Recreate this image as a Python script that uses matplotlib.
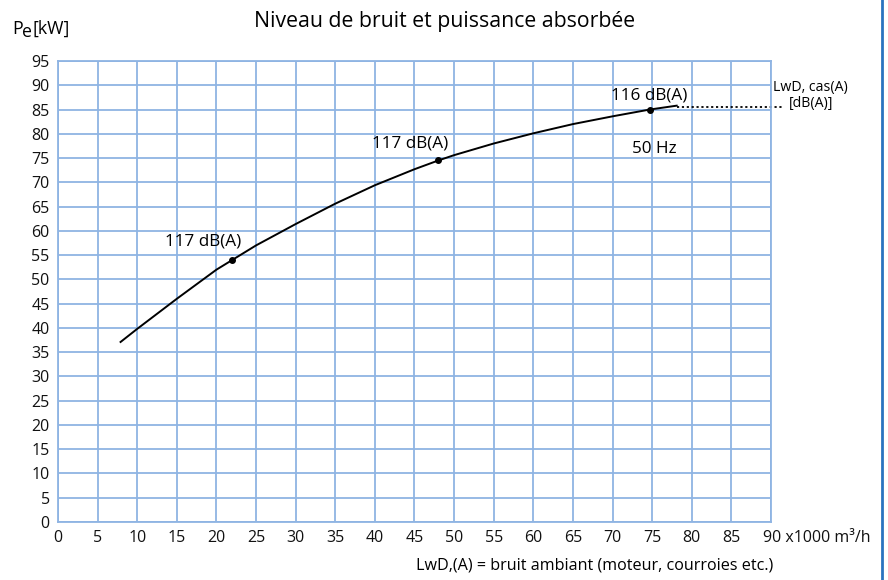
import matplotlib.pyplot as plt
import matplotlib.transforms as mtransforms
from matplotlib.lines import Line2D

plt.rcParams['font.family'] = ['Open Sans', 'DejaVu Sans']

# debit (x1000 m3/h) vs absorbed power (kW)
debit = [7.9, 10, 15, 20, 22, 25, 30, 35, 40, 45, 48, 50, 55, 60, 65, 70, 74.7, 78.1]
puissance = [37.1, 39.8, 46.0, 52.0, 54.0, 57.0, 61.4, 65.6, 69.4, 72.7, 74.5, 75.6, 78.0, 80.1, 82.0, 83.6, 85.0, 85.8]

# operating points with their sound power level
pt_debit = [22, 48, 74.7]
pt_puissance = [54.0, 74.5, 85.0]
pt_labels = ["117 dB(A)", "117 dB(A)", "116 dB(A)"]
pt_label_pos = [(18.3, 57.9), (44.4, 77.9), (74.6, 87.8)]

x_ticks = list(range(0, 95, 5))
y_ticks = list(range(0, 100, 5))

grid_col = '#8fb4e3'

fig = plt.figure(figsize=(8.88, 5.8), dpi=100)
ax = fig.add_axes([0.0653, 0.1, 0.8029, 0.7948])

ax.set_xlim(0, 90)
ax.set_ylim(0, 95)
ax.set_xticks(x_ticks)
ax.set_yticks(y_ticks)
ax.grid(True, color=grid_col, lw=1.3)
ax.set_axisbelow(True)
for s in ax.spines.values():
    s.set_color(grid_col)
    s.set_linewidth(1.3)
ax.tick_params(length=0, labelsize=11.5, pad=6, colors='#111111')
ax.set_xticklabels([str(t) for t in x_ticks[:-1]] + ["90 x1000 m\u00b3/h"])

# last label carries the unit: left-align it so "90" stays on its tick
last = ax.get_xticklabels()[-1]
last.set_horizontalalignment('left')
last.set_transform(last.get_transform() + mtransforms.ScaledTranslation(-8 / 100, 0, fig.dpi_scale_trans))

ax.plot(debit, puissance, color='black', lw=1.4)
ax.plot(pt_debit, pt_puissance, 'o', color='black', ms=4)

# dotted leader towards the unit label
ax.plot([debit[-1], 91.4], [85.6, 85.6], color='black', lw=1.3, ls=(0, (1.2, 1.5)), clip_on=False)

for lbl, (tx, ty) in zip(pt_labels, pt_label_pos):
    ax.text(tx, ty, lbl, ha='center', va='center', fontsize=12.3)
ax.text(75.3, 76.8, "50 Hz", ha='center', va='center', fontsize=12.3)

ax.text(90.3, 89.6, "LwD, cas(A)", ha='left', va='center', fontsize=10.2, clip_on=False)
ax.text(92.2, 86.2, "[dB(A)]", ha='left', va='center', fontsize=10.2, clip_on=False)

fig.text(445 / 888, 1 - 21 / 580, "Niveau de bruit et puissance absorb\u00e9e",
         ha='center', va='center', fontsize=15.3)

# P with lowered e, then unit
fig.text(12 / 888, 1 - 33.5 / 580, "P", ha='left', va='baseline', fontsize=12.8)
fig.text(22 / 888, 1 - 37 / 580, "e", ha='left', va='baseline', fontsize=12.8)
fig.text(32 / 888, 1 - 33.5 / 580, "[kW]", ha='left', va='baseline', fontsize=12.8)

fig.text(773 / 888, 1 - 565 / 580, "LwD,(A) = bruit ambiant (moteur, courroies etc.)",
         ha='right', va='center', fontsize=11.6)

fig.add_artist(Line2D([882 / 888, 882 / 888], [0, 1], color='#2a73c0', lw=2))

fig.savefig('out.png', dpi=100)
